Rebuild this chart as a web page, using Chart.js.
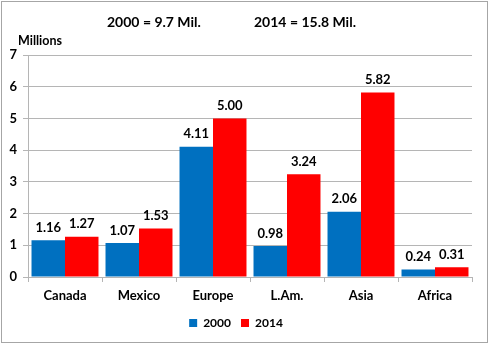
<!DOCTYPE html>
<html><head><meta charset="utf-8">
<script src="https://cdn.jsdelivr.net/npm/chart.js@4"></script>
<style>html,body{margin:0;padding:0;background:#fff}canvas{display:block}</style>
</head><body>
<canvas id="c" width="489" height="344"></canvas>
<script>
const categories = ["Canada", "Mexico", "Europe", "L.Am.", "Asia", "Africa"];
const series2000 = [1.16, 1.07, 4.11, 0.98, 2.06, 0.24];
const series2014 = [1.27, 1.53, 5.00, 3.24, 5.82, 0.31];
const seriesNames = ["2000", "2014"];
const yTicks = [0, 1, 2, 3, 4, 5, 6, 7];
const titleLeft = "2000 = 9.7 Mil.";
const titleRight = "2014 = 15.8 Mil.";
const yUnit = "Millions";

const FONT = "Lato, 'Open Sans', sans-serif";
const GRID = "#b5b5b5";

const decor = {
  id: "decor",
  beforeDraw(chart) {
    const ctx = chart.ctx;
    ctx.save();
    ctx.fillStyle = "#fff";
    ctx.fillRect(0, 0, chart.width, chart.height);
    ctx.strokeStyle = "#a6a6a6";
    ctx.lineWidth = 1;
    ctx.strokeRect(1.5, 1.5, chart.width - 3, chart.height - 3);
    ctx.restore();
  },
  afterDraw(chart) {
    const ctx = chart.ctx;
    ctx.save();
    ctx.fillStyle = "#000";
    ctx.font = "bold 14px " + FONT;
    ctx.textBaseline = "middle";
    ctx.textAlign = "left";
    ctx.fillText(titleLeft, 107, 22);
    ctx.fillText(titleRight, 254, 22);
    ctx.font = "bold 12.5px " + FONT;
    ctx.fillText(yUnit, 18, 41);
    ctx.font = "bold 13px " + FONT;
    ctx.textAlign = "center";
    ctx.textBaseline = "bottom";
    chart.data.datasets.forEach((ds, di) => {
      const meta = chart.getDatasetMeta(di);
      meta.data.forEach((bar, i) => {
        ctx.fillText(ds.data[i].toFixed(2), bar.x, bar.y - 6);
      });
    });
    ctx.restore();
  }
};

new Chart(document.getElementById("c"), {
  type: "bar",
  data: {
    labels: categories,
    datasets: [
      { label: seriesNames[0], data: series2000, backgroundColor: "#0070C0" },
      { label: seriesNames[1], data: series2014, backgroundColor: "#FF0000" }
    ]
  },
  options: {
    responsive: false,
    animation: false,
    devicePixelRatio: 1,
    layout: { padding: { left: 0, right: 17, top: 55, bottom: 5 } },
    datasets: { bar: { categoryPercentage: 0.905, barPercentage: 1.0 } },
    scales: {
      x: {
        grid: { display: true, drawOnChartArea: false, drawTicks: true, tickLength: 5, color: GRID },
        border: { color: GRID },
        ticks: { color: "#000", font: { family: FONT, size: 13, weight: "bold" }, padding: 6 },
        afterFit(s) { s.height = 30; }
      },
      y: {
        min: 0, max: 7,
        afterBuildTicks(s) { s.ticks = yTicks.map(v => ({ value: v })); },
        grid: { color: GRID, tickLength: 5 },
        border: { color: GRID },
        ticks: { color: "#000", font: { family: FONT, size: 13, weight: "bold" }, padding: 6 },
        afterFit(s) { s.width = 28; }
      }
    },
    plugins: {
      title: { display: false },
      tooltip: { enabled: false },
      legend: {
        position: "bottom",
        labels: {
          color: "#000",
          font: { family: FONT, size: 12, weight: "bold" },
          boxWidth: 8, boxHeight: 8, padding: 10
        }
      }
    }
  },
  plugins: [decor]
});
</script>
</body></html>
